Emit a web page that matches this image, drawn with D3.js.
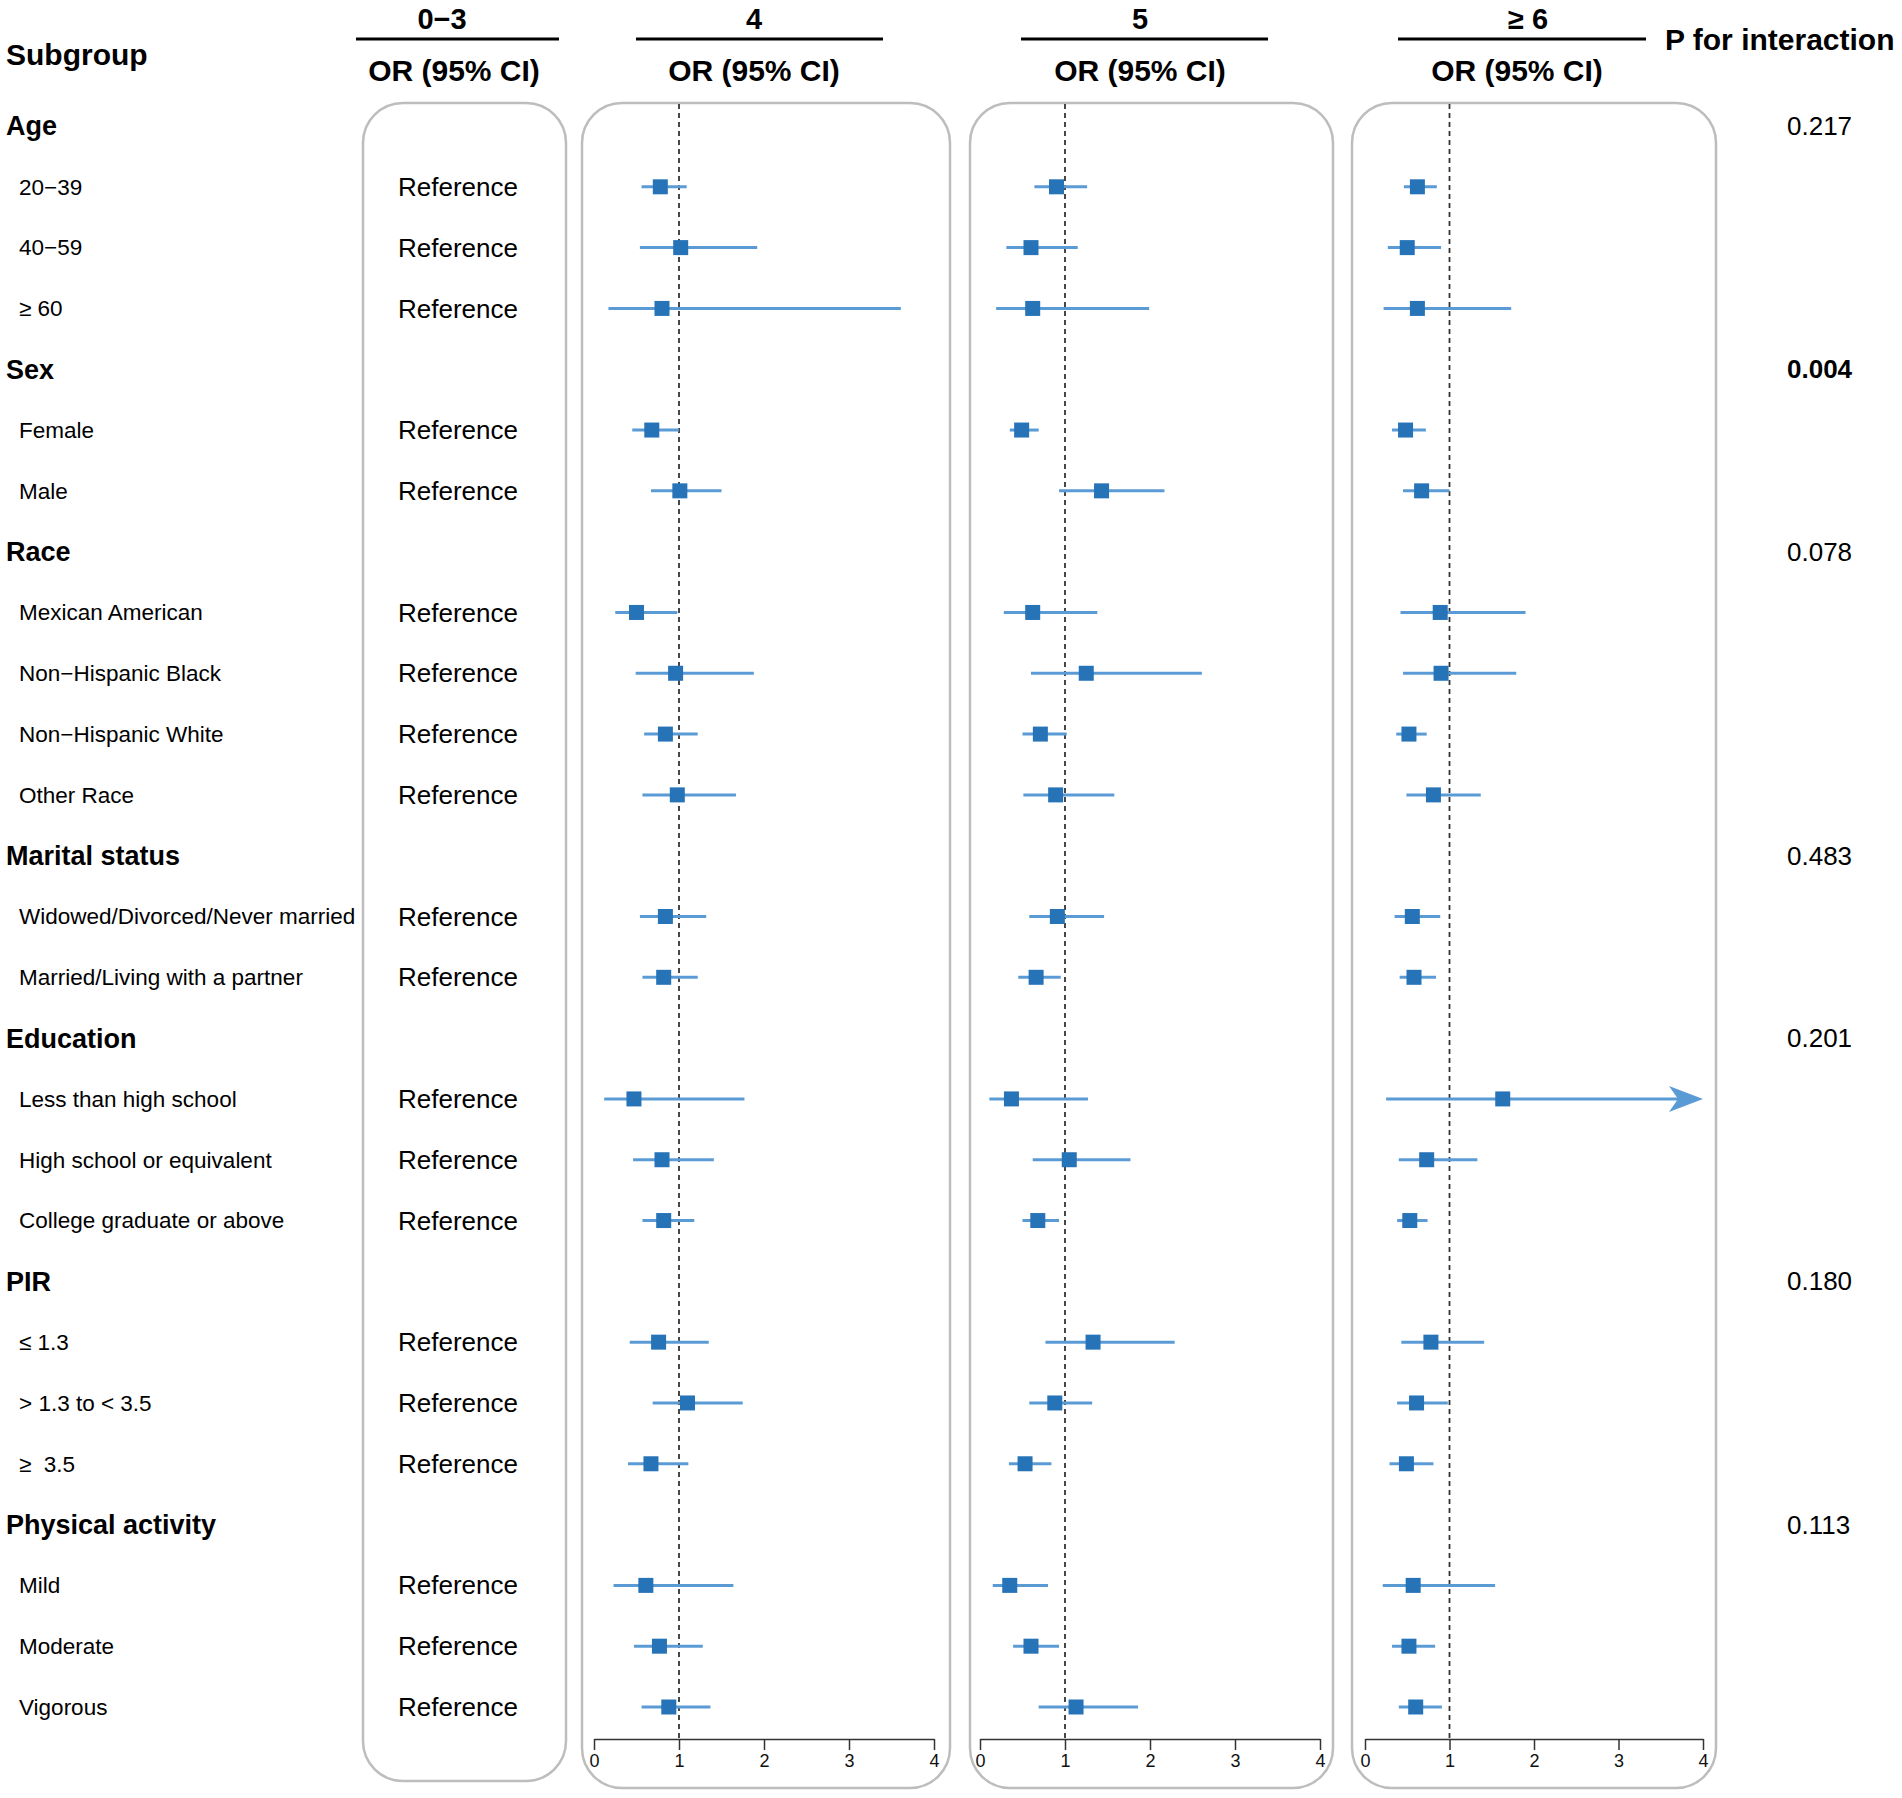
<!DOCTYPE html>
<html>
<head>
<meta charset="utf-8">
<script src="https://cdn.jsdelivr.net/npm/d3@7"></script>
<style>
  body { margin: 0; background: #fff; }
  svg { font-family: "Liberation Sans", Arial, sans-serif; }
</style>
</head>
<body>
<svg id="chart"></svg>
<script>
const width = 1902;
const height = 1798;

// rows, top to bottom
const rowLabels = [
  "Age", "20\u221239", "40\u221259", "\u2265 60",
  "Sex", "Female", "Male",
  "Race", "Mexican American", "Non\u2212Hispanic Black", "Non\u2212Hispanic White", "Other Race",
  "Marital status", "Widowed/Divorced/Never married", "Married/Living with a partner",
  "Education", "Less than high school", "High school or equivalent", "College graduate or above",
  "PIR", "\u2264 1.3", "> 1.3 to < 3.5", "\u2265\u00a0 3.5",
  "Physical activity", "Mild", "Moderate", "Vigorous"
];
const groupLabels = ["Age", "Sex", "Race", "Marital status", "Education", "PIR", "Physical activity"];
const pInteraction = ["0.217", "0.004", "0.078", "0.483", "0.201", "0.180", "0.113"];

const panelTitles = ["0\u22123", "4", "5", "\u2265 6"];

// subgroup rows only (20), OR and 95% CI per exposure level
const or4 = [0.78, 1.02, 0.80, 0.68, 1.01, 0.50, 0.96, 0.84, 0.98, 0.84, 0.82, 0.47, 0.80, 0.82, 0.76, 1.10, 0.67, 0.61, 0.77, 0.88];
const lo4 = [0.56, 0.54, 0.17, 0.45, 0.67, 0.25, 0.49, 0.59, 0.57, 0.54, 0.57, 0.12, 0.46, 0.57, 0.42, 0.69, 0.40, 0.23, 0.47, 0.56];
const hi4 = [1.09, 1.92, 3.61, 1.00, 1.50, 0.98, 1.88, 1.22, 1.67, 1.32, 1.22, 1.77, 1.41, 1.18, 1.35, 1.75, 1.11, 1.64, 1.28, 1.37];

const or5 = [0.90, 0.60, 0.62, 0.49, 1.43, 0.62, 1.25, 0.71, 0.89, 0.91, 0.66, 0.37, 1.05, 0.68, 1.33, 0.88, 0.53, 0.35, 0.60, 1.13];
const lo5 = [0.64, 0.31, 0.19, 0.35, 0.93, 0.28, 0.60, 0.50, 0.51, 0.58, 0.45, 0.11, 0.62, 0.50, 0.77, 0.58, 0.34, 0.15, 0.39, 0.69];
const hi5 = [1.26, 1.15, 1.99, 0.69, 2.17, 1.38, 2.61, 1.02, 1.58, 1.46, 0.95, 1.27, 1.77, 0.93, 2.29, 1.32, 0.84, 0.80, 0.93, 1.86];

const or6 = [0.62, 0.50, 0.62, 0.48, 0.67, 0.89, 0.90, 0.52, 0.81, 0.56, 0.58, 1.63, 0.73, 0.53, 0.78, 0.61, 0.49, 0.57, 0.52, 0.60];
const lo6 = [0.46, 0.27, 0.22, 0.32, 0.45, 0.42, 0.45, 0.37, 0.49, 0.35, 0.41, 0.25, 0.40, 0.38, 0.43, 0.38, 0.29, 0.21, 0.32, 0.40];
const hi6 = [0.85, 0.90, 1.73, 0.72, 1.00, 1.90, 1.79, 0.73, 1.37, 0.89, 0.84, 4.80, 1.33, 0.74, 1.41, 0.98, 0.81, 1.54, 0.83, 0.91];

const xTicks = [0, 1, 2, 3, 4];

const ciColor = "#5b9bd5";
const boxColor = "#2673b8";

const svg = d3.select("#chart").attr("width", width).attr("height", height);

const yScale = d3.scalePoint().domain(d3.range(rowLabels.length)).range([126, 1707]);
const isGroup = l => groupLabels.includes(l);
const subRows = d3.range(rowLabels.length).filter(i => !isGroup(rowLabels[i]));

// header
svg.append("text").attr("x", 6).attr("y", 65)
  .style("font-size", "30px").style("font-weight", "bold").text("Subgroup");

const headers = [
  { title: panelTitles[0], tx: 442, l0: 356, l1: 559, ox: 454 },
  { title: panelTitles[1], tx: 754, l0: 636, l1: 883, ox: 754 },
  { title: panelTitles[2], tx: 1140, l0: 1021, l1: 1268, ox: 1140 },
  { title: panelTitles[3], tx: 1528, l0: 1398, l1: 1646, ox: 1517 }
];
headers.forEach(h => {
  svg.append("text").attr("x", h.tx).attr("y", 29).attr("text-anchor", "middle")
    .style("font-size", "29px").style("font-weight", "bold").text(h.title);
  svg.append("line").attr("x1", h.l0).attr("x2", h.l1).attr("y1", 39).attr("y2", 39)
    .attr("stroke", "#000").attr("stroke-width", 3);
  svg.append("text").attr("x", h.ox).attr("y", 81).attr("text-anchor", "middle")
    .style("font-size", "30px").style("font-weight", "bold").text("OR (95% CI)");
});
svg.append("text").attr("x", 1665).attr("y", 50)
  .style("font-size", "30px").style("font-weight", "bold").text("P for interaction");

// row labels
svg.append("g").selectAll("text")
  .data(rowLabels)
  .enter()
  .append("text")
  .attr("x", d => isGroup(d) ? 6 : 19)
  .attr("y", (d, i) => yScale(i))
  .attr("dy", "0.35em")
  .attr("xml:space", "preserve")
  .style("font-size", d => isGroup(d) ? "27px" : "22.5px")
  .style("font-weight", d => isGroup(d) ? "bold" : "normal")
  .text(d => d);

// p for interaction
svg.append("g").selectAll("text")
  .data(groupLabels)
  .enter()
  .append("text")
  .attr("x", 1787)
  .attr("y", d => yScale(rowLabels.indexOf(d)))
  .attr("dy", "0.35em")
  .style("font-size", "26px")
  .style("font-weight", (d, i) => +pInteraction[i] < 0.05 ? "bold" : "normal")
  .text((d, i) => pInteraction[i]);

// reference panel
svg.append("rect").attr("x", 363).attr("y", 103).attr("width", 203).attr("height", 1678)
  .attr("rx", 40).attr("ry", 40).attr("fill", "none").attr("stroke", "#bdbdbd").attr("stroke-width", 2.5);
svg.append("g").selectAll("text")
  .data(subRows)
  .enter()
  .append("text")
  .attr("x", 458)
  .attr("y", d => yScale(d))
  .attr("dy", "0.35em")
  .attr("text-anchor", "middle")
  .style("font-size", "26px")
  .text("Reference");

// forest panels
const panels = [
  { box: [582, 950], range: [594, 934], or: or4, lo: lo4, hi: hi4 },
  { box: [970, 1333], range: [980, 1320], or: or5, lo: lo5, hi: hi5 },
  { box: [1352, 1716], range: [1365, 1703], or: or6, lo: lo6, hi: hi6 }
];
const axisY = 1739;

panels.forEach(p => {
  const x = d3.scaleLinear().domain([0, 4]).range(p.range);
  const g = svg.append("g");

  g.append("rect").attr("x", p.box[0]).attr("y", 103)
    .attr("width", p.box[1] - p.box[0]).attr("height", 1685)
    .attr("rx", 40).attr("ry", 40).attr("fill", "none")
    .attr("stroke", "#bdbdbd").attr("stroke-width", 2.5);

  g.append("line").attr("x1", x(1)).attr("x2", x(1)).attr("y1", 104).attr("y2", axisY)
    .attr("stroke", "#333").attr("stroke-width", 1.8).attr("stroke-dasharray", "5,4");

  const rows = subRows.map((r, i) => ({ y: yScale(r), or: p.or[i], lo: p.lo[i], hi: p.hi[i] }));

  g.selectAll(".ci").data(rows).enter().append("line")
    .attr("x1", d => x(d.lo))
    .attr("x2", d => d.hi > 4 ? x(4) - 24 : x(d.hi))
    .attr("y1", d => d.y).attr("y2", d => d.y)
    .attr("stroke", ciColor).attr("stroke-width", 3);

  g.selectAll(".arrow").data(rows.filter(d => d.hi > 4)).enter().append("path")
    .attr("d", d => `M${x(4)},${d.y} L${x(4) - 34},${d.y - 13} L${x(4) - 25},${d.y} L${x(4) - 34},${d.y + 13} Z`)
    .attr("fill", ciColor);

  g.selectAll(".pt").data(rows).enter().append("rect")
    .attr("x", d => x(d.or) - 7.5).attr("y", d => d.y - 7.5)
    .attr("width", 15).attr("height", 15)
    .attr("fill", boxColor);

  const axis = d3.axisBottom(x).tickValues(xTicks).tickSize(11).tickSizeOuter(0).tickFormat(d3.format("d"));
  const ag = g.append("g").attr("transform", `translate(0, ${axisY})`).call(axis);
  ag.select(".domain").attr("stroke", "#333").attr("stroke-width", 1.5);
  ag.selectAll(".tick line").attr("stroke", "#333").attr("stroke-width", 1.5);
  ag.selectAll(".tick text").attr("y", 15).style("font-size", "18px")
    .style("font-family", "'Liberation Sans', Arial, sans-serif").attr("fill", "#111");
});
</script>
</body>
</html>
